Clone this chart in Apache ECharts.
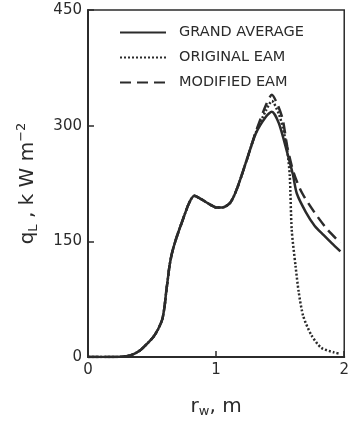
<!DOCTYPE html>
<html>
<head>
<meta charset="utf-8">
<script src="https://cdn.jsdelivr.net/npm/echarts@6/dist/echarts.min.js"></script>
<style>
  html, body { margin: 0; padding: 0; background: #fff; }
  #chart { width: 352px; height: 423px; }
</style>
</head>
<body>
<div id="chart"></div>
<script>
'use strict';
/* heat flux profile: grand average vs EAM */

var seriesNames = ['GRAND AVERAGE', 'ORIGINAL EAM', 'MODIFIED EAM'];
var yTicks = [0, 150, 300, 450];
var xTicks = [0, 1, 2];

// grand average
var avgX = [0, 0.2, 0.3, 0.36, 0.41, 0.46, 0.51, 0.547, 0.58, 0.598, 0.61, 0.623, 0.636, 0.656, 0.687, 0.74, 0.79, 0.83, 0.89, 0.95, 1.0, 1.05, 1.11, 1.16, 1.24, 1.31, 1.39, 1.435, 1.49, 1.555, 1.6, 1.63, 1.7, 1.77, 1.84, 1.9, 1.97];
var avgY = [0, 0, 1, 4, 9, 17, 26, 36, 49, 66, 84, 101, 118, 135, 153, 178, 200, 209, 204, 198, 194, 194, 200, 217, 256, 290, 312, 318, 303, 265, 236, 212, 188, 170, 158, 148, 137];

// original EAM
var origX = [0, 0.2, 0.3, 0.36, 0.41, 0.46, 0.51, 0.547, 0.58, 0.598, 0.61, 0.623, 0.636, 0.656, 0.687, 0.74, 0.79, 0.83, 0.89, 0.95, 1.0, 1.05, 1.11, 1.16, 1.24, 1.31, 1.39, 1.435, 1.49, 1.52, 1.555, 1.575, 1.59, 1.62, 1.645, 1.68, 1.745, 1.82, 1.92, 1.97];
var origY = [0, 0, 1, 4, 9, 17, 26, 36, 49, 66, 84, 101, 118, 135, 153, 178, 200, 209, 204, 198, 194, 194, 200, 217, 256, 291, 320, 332, 315, 298, 268, 235, 165, 118, 84, 53, 28, 12, 6, 4];

// modified EAM
var modX = [0, 0.2, 0.3, 0.36, 0.41, 0.46, 0.51, 0.547, 0.58, 0.598, 0.61, 0.623, 0.636, 0.656, 0.687, 0.74, 0.79, 0.83, 0.89, 0.95, 1.0, 1.05, 1.11, 1.16, 1.24, 1.31, 1.39, 1.435, 1.48, 1.52, 1.555, 1.605, 1.67, 1.77, 1.87, 1.97];
var modY = [0, 0, 1, 4, 9, 17, 26, 36, 49, 66, 84, 101, 118, 135, 153, 178, 200, 209, 204, 198, 194, 194, 200, 217, 256, 292, 327, 340, 327, 308, 273, 239, 213, 187, 165, 148];

function pairs(xs, ys) {
  var out = [];
  for (var i = 0; i < xs.length; i++) {
    out.push([xs[i], ys[i]]);
  }
  return out;
}

var ink = '#2b2b2b';
var font = 'DejaVu Sans';

var chart = echarts.init(document.getElementById('chart'));
var option = {
  backgroundColor: '#fff',
  animation: false,
  grid: {
    left: 88,
    right: 2,
    top: 10,
    bottom: 65,
    show: true,
    borderColor: ink,
    borderWidth: 1.5
  },
  legend: {
    data: seriesNames,
    orient: 'vertical',
    left: 114,
    top: 20,
    itemWidth: 46,
    itemHeight: 14,
    itemGap: 10,
    itemStyle: { opacity: 0 },
    textStyle: {
      color: ink,
      fontFamily: font,
      fontSize: 14.5,
      padding: [0, 0, 0, 8]
    }
  },
  xAxis: {
    type: 'value',
    min: xTicks[0],
    max: xTicks[xTicks.length - 1],
    interval: 1,
    name: '{main|r}{sub|w}{main|, m}',
    nameLocation: 'middle',
    nameGap: 38,
    nameTextStyle: {
      color: ink,
      fontFamily: font,
      rich: {
        main: { fontSize: 20, fontFamily: font, color: ink },
        sub: { fontSize: 13, fontFamily: font, color: ink, verticalAlign: 'bottom', padding: [10, 0, 0, 0] }
      }
    },
    splitLine: { show: false },
    axisLine: { lineStyle: { color: ink, width: 2 } },
    axisTick: { inside: true, length: 6, lineStyle: { color: ink, width: 1.5 } },
    axisLabel: { color: ink, fontFamily: font, fontSize: 15, margin: 6 }
  },
  yAxis: {
    type: 'value',
    min: yTicks[0],
    max: yTicks[yTicks.length - 1],
    interval: 150,
    name: '{main|q}{sub|L}{main| , k W m}{sup|−2}',
    nameLocation: 'middle',
    nameRotate: 90,
    nameGap: 48,
    nameTextStyle: {
      color: ink,
      fontFamily: font,
      rich: {
        main: { fontSize: 20, fontFamily: font, color: ink },
        sub: { fontSize: 13, fontFamily: font, color: ink, verticalAlign: 'bottom', padding: [10, 0, 0, 0] },
        sup: { fontSize: 13, fontFamily: font, color: ink, verticalAlign: 'top', padding: [0, 0, 12, 0] }
      }
    },
    splitLine: { show: false },
    axisLine: { lineStyle: { color: ink, width: 2 } },
    axisTick: { inside: true, length: 6, lineStyle: { color: ink, width: 1.5 } },
    axisLabel: { color: ink, fontFamily: font, fontSize: 15, margin: 6 }
  },
  series: [{
    name: seriesNames[0],
    type: 'line',
    data: pairs(avgX, avgY),
    smooth: 0.25,
    symbol: 'none',
    lineStyle: { color: ink, width: 2.5, type: 'solid' },
    itemStyle: { color: ink },
    z: 3
  }, {
    name: seriesNames[1],
    type: 'line',
    data: pairs(origX, origY),
    smooth: 0.25,
    symbol: 'none',
    lineStyle: { color: ink, width: 2.5, type: [2, 2] },
    itemStyle: { color: ink },
    z: 2
  }, {
    name: seriesNames[2],
    type: 'line',
    data: pairs(modX, modY),
    smooth: 0.25,
    symbol: 'none',
    lineStyle: { color: ink, width: 2.5, type: [11, 6] },
    itemStyle: { color: ink },
    z: 2
  }]
};

chart.setOption(option);
</script>
</body>
</html>
